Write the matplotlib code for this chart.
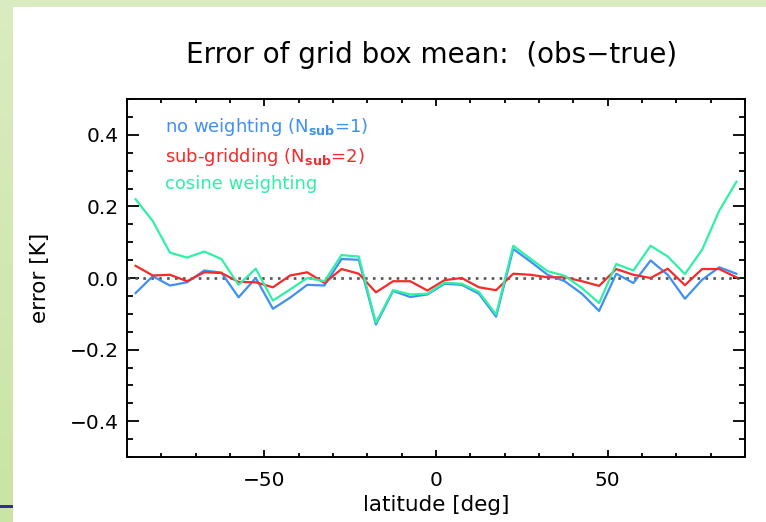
import numpy as np
import matplotlib
matplotlib.use("Agg")
import matplotlib.pyplot as plt
from matplotlib.patches import Rectangle
from matplotlib.ticker import MultipleLocator, FuncFormatter

# grid box centre latitudes (5 degree boxes)
latitude = np.arange(-87.5, 90, 5.0)

no_weighting = [-0.042, 0.005, -0.021, -0.012, 0.021, 0.015, -0.054, 0.000,
                -0.086, -0.055, -0.019, -0.021, 0.053, 0.051, -0.130, -0.036,
                -0.053, -0.046, -0.016, -0.019, -0.044, -0.108, 0.081, 0.046,
                0.009, -0.009, -0.044, -0.092, 0.012, -0.014, 0.049, 0.009,
                -0.058, -0.005, 0.030, 0.012]
sub_gridding = [0.034, 0.007, 0.009, -0.009, 0.016, 0.014, -0.011, -0.012,
                -0.026, 0.007, 0.016, -0.014, 0.025, 0.012, -0.040, -0.009,
                -0.009, -0.035, -0.006, 0.000, -0.026, -0.034, 0.012, 0.009,
                0.002, 0.002, -0.009, -0.022, 0.025, 0.009, 0.000, 0.026,
                -0.020, 0.025, 0.025, 0.002]
cosine_weighting = [0.220, 0.159, 0.071, 0.057, 0.074, 0.053, -0.019, 0.026,
                    -0.063, -0.032, 0.000, -0.009, 0.064, 0.060, -0.125, -0.034,
                    -0.046, -0.044, -0.013, -0.016, -0.039, -0.102, 0.090, 0.054,
                    0.019, 0.006, -0.028, -0.070, 0.039, 0.021, 0.090, 0.060,
                    0.011, 0.079, 0.188, 0.269]

series_labels = [r"no weighting (N$_{\mathbf{sub}}$=1)",
                 r"sub-gridding (N$_{\mathbf{sub}}$=2)",
                 "cosine weighting"]
series_colors = ["#3f8ff5", "#f52a2a", "#2ff0a5"]

W, H = 766, 522
fig = plt.figure(figsize=(W / 100, H / 100), dpi=100)

# slide background: pale green border with white panel
bg = fig.add_axes([0, 0, 1, 1], zorder=-10)
grad = np.linspace(0, 1, 256)[:, None]
top_c = np.array([0.855, 0.925, 0.755])
bot_c = np.array([0.790, 0.895, 0.640])
img = top_c + (bot_c - top_c) * grad[..., None]
bg.imshow(np.repeat(img, 2, axis=1), aspect="auto", extent=[0, 1, 0, 1], origin="upper")
bg.add_patch(Rectangle((13 / W, 0), 1, 1 - 7 / H, color="white", lw=0))
bg.add_patch(Rectangle((0, 1 - 508 / H), 13 / W, 3 / H, color="#2e3192", lw=0))
bg.set_xlim(0, 1)
bg.set_ylim(0, 1)
bg.axis("off")

ax = fig.add_axes([127 / W, 1 - 457 / H, 618 / W, 358 / H])
ax.set_facecolor("none")

ax.plot([-90, 90], [0, 0], color="#555555", ls=(0, (1, 2)), lw=1.9)
for vals, color in zip([no_weighting, sub_gridding, cosine_weighting], series_colors):
    ax.plot(latitude, vals, color=color, lw=1.6)

ax.set_xlim(-90, 90)
ax.set_ylim(-0.5, 0.5)
ax.xaxis.set_major_locator(MultipleLocator(50))
ax.xaxis.set_minor_locator(MultipleLocator(10))
ax.yaxis.set_major_locator(MultipleLocator(0.2))
ax.yaxis.set_minor_locator(MultipleLocator(0.05))
ax.yaxis.set_major_formatter(FuncFormatter(lambda v, p: f"{v:.1f}".replace("-", "\u2212")))
ax.xaxis.set_major_formatter(FuncFormatter(lambda v, p: f"{v:.0f}".replace("-", "\u2212")))

ax.tick_params(axis="both", which="both", direction="in", top=True, right=True,
               width=1.3, colors="black", labelsize=14.5)
ax.tick_params(axis="x", which="major", length=5.2, pad=10)
ax.tick_params(axis="x", which="minor", length=2.6)
ax.tick_params(axis="y", which="major", length=8.9, pad=6)
ax.tick_params(axis="y", which="minor", length=4.5)
for sp in ax.spines.values():
    sp.set_linewidth(1.4)

ax.set_xlabel("latitude [deg]", fontsize=15.5, labelpad=4)
ax.set_ylabel("error [K]", fontsize=15.5, labelpad=14)

for i, (lab, color) in enumerate(zip(series_labels, series_colors)):
    ax.text(0.061, [0.922, 0.838, 0.763][i], lab, color=color, fontsize=13,
            transform=ax.transAxes, va="center", ha="left")

fig.text(0.563, 1 - 55 / H, "Error of grid box mean:  (obs\u2212true)",
         ha="center", va="center", fontsize=20)

fig.savefig("out.png", dpi=100)
